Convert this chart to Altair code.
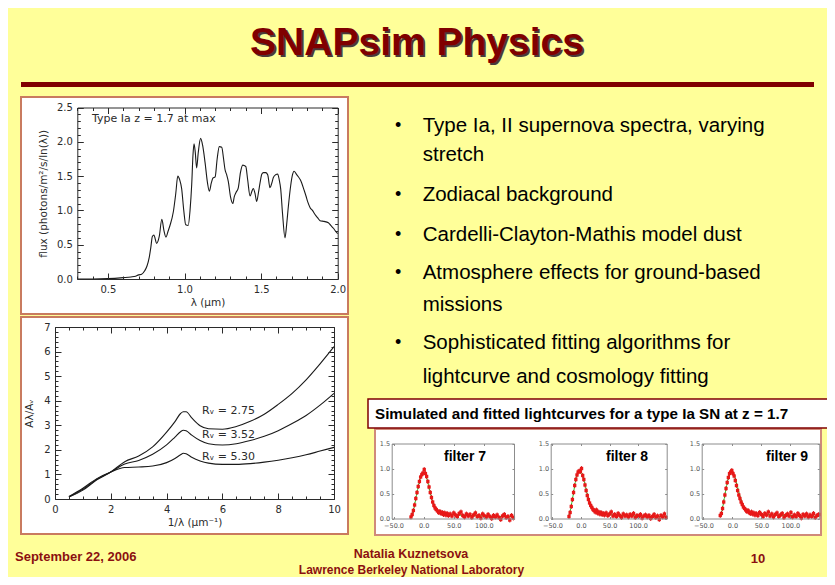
import altair as alt
import pandas as pd

# ---------------- data ----------------
TITLE = "SNAPsim Physics"
BULLETS = [
    ["Type Ia, II supernova spectra, varying", "stretch"],
    ["Zodiacal background"],
    ["Cardelli-Clayton-Mathis model dust"],
    ["Atmosphere effects for ground-based", "missions"],
    ["Sophisticated fitting algorithms for", "lightcurve and cosmology fitting"],
]
CAPTION = "Simulated and fitted lightcurves for a type Ia SN at z = 1.7"
FOOT_DATE = "September 22, 2006"
FOOT_AUTHOR = "Natalia Kuznetsova"
FOOT_LAB = "Lawrence Berkeley National Laboratory"
FOOT_PAGE = "10"

SPEC_NOTE = "Type Ia z = 1.7 at max"
SPEC_XTITLE = "λ (μm)"
SPEC_YTITLE = "flux (photons/m²/s/ln(λ))"
SPEC_XTICKS = [0.5, 1.0, 1.5, 2.0]
SPEC_YTICKS = [0.0, 0.5, 1.0, 1.5, 2.0, 2.5]
SPEC_LAMBDA = [0.30, 0.40, 0.50, 0.60, 0.65, 0.68, 0.70, 0.72, 0.74, 0.755, 0.77, 0.78, 0.79, 0.80,
               0.818, 0.835, 0.852, 0.866, 0.879, 0.893, 0.905, 0.927, 0.943, 0.956, 0.968, 0.981,
               0.995, 1.008, 1.024, 1.036, 1.047, 1.055, 1.062, 1.070, 1.079, 1.090, 1.105, 1.118,
               1.134, 1.150, 1.162, 1.175, 1.185, 1.200, 1.213, 1.227, 1.243, 1.255, 1.264, 1.275,
               1.286, 1.300, 1.315, 1.325, 1.336, 1.351, 1.365, 1.380, 1.400, 1.412, 1.428, 1.440,
               1.449, 1.460, 1.471, 1.482, 1.493, 1.505, 1.515, 1.530, 1.543, 1.558, 1.570, 1.580,
               1.595, 1.608, 1.618, 1.628, 1.640, 1.656, 1.667, 1.678, 1.693, 1.705, 1.715, 1.730,
               1.743, 1.755, 1.765, 1.780, 1.793, 1.805, 1.820, 1.835, 1.852, 1.870, 1.885, 1.910,
               1.939, 1.955, 1.972, 1.985, 2.000]
SPEC_FLUX = [0.0, 0.0, 0.005, 0.02, 0.03, 0.04, 0.06, 0.07, 0.12, 0.19, 0.32, 0.46, 0.62, 0.64,
             0.52, 0.62, 0.87, 0.70, 0.61, 0.70, 0.78, 0.98, 1.25, 1.50, 1.45, 1.32,
             1.0, 0.79, 0.78, 1.0, 1.38, 1.8, 1.97, 1.85, 1.62, 1.85, 2.05, 1.95,
             1.70, 1.40, 1.28, 1.40, 1.47, 1.49, 1.75, 1.93, 1.92, 1.75, 1.60, 1.52,
             1.42, 1.20, 1.10, 1.20, 1.26, 1.33, 1.55, 1.66, 1.64, 1.45, 1.21, 1.28,
             1.32, 1.25, 1.13, 1.25, 1.40, 1.53, 1.55, 1.55, 1.52, 1.33, 1.40, 1.48,
             1.52, 1.53, 1.45, 1.31, 0.95, 0.60, 0.80, 1.06, 1.36, 1.52, 1.57, 1.53,
             1.49, 1.45, 1.40, 1.30, 1.21, 1.12, 1.04, 1.00, 0.94, 0.89, 0.85, 0.84,
             0.82, 0.78, 0.74, 0.70, 0.66]

EXT_XTITLE = "1/λ (μm⁻¹)"
EXT_YTITLE = "Aλ/Aᵥ"
EXT_XTICKS = [0, 2, 4, 6, 8, 10]
EXT_YTICKS = [0, 1, 2, 3, 4, 5, 6, 7]
EXT_LABELS = ["Rᵥ = 2.75", "Rᵥ = 3.52", "Rᵥ = 5.30"]
EXT_X = [0.5, 1.0, 1.5, 2.0, 2.5, 3.0, 3.5, 4.0, 4.3, 4.5, 4.6, 4.7, 4.9, 5.2, 5.5, 6.0,
         6.5, 7.0, 7.5, 8.0, 8.5, 9.0, 9.5, 10.0]
EXT_275 = [0.08, 0.36, 0.78, 1.10, 1.52, 1.75, 2.12, 2.72, 3.15, 3.48, 3.55, 3.55, 3.30, 2.98,
           2.86, 2.84, 2.95, 3.16, 3.45, 3.85, 4.30, 4.85, 5.50, 6.20]
EXT_352 = [0.09, 0.40, 0.80, 1.10, 1.42, 1.57, 1.82, 2.20, 2.52, 2.74, 2.80, 2.78, 2.60, 2.38,
           2.25, 2.20, 2.25, 2.38, 2.55, 2.78, 3.07, 3.40, 3.82, 4.30]
EXT_530 = [0.10, 0.44, 0.83, 1.10, 1.28, 1.30, 1.34, 1.48, 1.65, 1.80, 1.86, 1.84, 1.70, 1.55,
           1.46, 1.41, 1.41, 1.44, 1.50, 1.58, 1.68, 1.80, 1.95, 2.10]

FILTERS = ["filter 7", "filter 8", "filter 9"]
LC_XTICKS = [-50, 0, 50, 100]
LC_YTICKS = [0.0, 0.5, 1.0, 1.5]
LC_T = [-21, -19, -17, -15, -13, -11, -9, -7, -5, -3, -1, 1, 3, 5, 7, 9, 11, 13, 15, 17, 19, 21,
        23, 25, 27, 29, 31, 33, 35, 37, 39, 41, 44, 47, 50, 53, 56, 59, 62, 65, 68, 71, 74, 77,
        80, 83, 86, 89, 92, 95, 98, 101, 104, 107, 110, 113, 116, 119, 122, 125, 128, 131, 134,
        137, 140, 143, 146, 149]
LC_F7 = [0.03, 0.08, 0.16, 0.27, 0.40, 0.52, 0.64, 0.74, 0.83, 0.88, 0.91, 0.98, 0.90, 0.84,
         0.74, 0.63, 0.52, 0.42, 0.33, 0.26, 0.21, 0.18, 0.15, 0.12, 0.14, 0.10, 0.12, 0.08,
         0.11, 0.07, 0.10, 0.06,
         0.09, 0.05, 0.11, 0.07, 0.04, 0.10, 0.13, 0.06, 0.03, 0.09, 0.05, 0.08, 0.02, 0.07,
         0.11, 0.04, 0.06, 0.01, 0.09, 0.05, 0.03, 0.08, 0.04, 0.00, 0.06, 0.03, 0.07, 0.02,
         -0.02, 0.05, 0.08, 0.02, 0.04, -0.03, 0.06, 0.01]
LC_F8 = [0.04, 0.12, 0.24, 0.38, 0.52, 0.66, 0.78, 0.87, 0.93, 0.95, 0.94, 1.00, 0.86, 0.78,
         0.67, 0.56, 0.46, 0.38, 0.31, 0.26, 0.22, 0.18, 0.16, 0.13, 0.17, 0.11, 0.13, 0.09,
         0.12, 0.08, 0.10, 0.07,
         0.11, 0.06, 0.09, 0.13, 0.05, 0.08, 0.04, 0.10, 0.06, 0.02, 0.09, 0.05, 0.07, 0.03,
         0.08, 0.05, 0.10, 0.02, 0.06, 0.04, 0.08, 0.01, 0.05, 0.07, 0.03, 0.06, 0.00, 0.04,
         0.08, 0.02, 0.05, -0.02, 0.06, 0.03, 0.09, 0.02]
LC_F9 = [0.06, 0.10, 0.20, 0.33, 0.47, 0.60, 0.72, 0.82, 0.90, 0.93, 0.96, 0.90, 0.85, 0.76,
         0.66, 0.56, 0.47, 0.40, 0.33, 0.28, 0.23, 0.20, 0.17, 0.14, 0.16, 0.12, 0.10, 0.13,
         0.09, 0.11, 0.07, 0.10,
         0.06, 0.12, 0.08, 0.04, 0.10, 0.07, 0.13, 0.05, 0.09, 0.03, 0.08, 0.11, 0.04, 0.07,
         0.10, 0.02, 0.06, 0.09, 0.05, 0.12, 0.03, 0.07, 0.04, 0.10, 0.06, 0.01, 0.08, 0.05,
         0.09, 0.03, 0.07, 0.04, 0.10, 0.02, 0.06, 0.08]
LC_ERR = 0.05
FIT_T = [-22, -18, -14, -10, -6, -3, 0, 3, 6, 10, 14, 18, 24, 30, 40, 55, 75, 100, 125, 150]
FIT_F7 = [0.0, 0.12, 0.33, 0.58, 0.80, 0.89, 0.92, 0.88, 0.77, 0.57, 0.38, 0.26, 0.17, 0.12,
          0.09, 0.07, 0.06, 0.05, 0.04, 0.035]
FIT_F8 = [0.02, 0.20, 0.45, 0.72, 0.90, 0.95, 0.93, 0.86, 0.74, 0.53, 0.36, 0.25, 0.17, 0.13,
          0.10, 0.07, 0.06, 0.05, 0.04, 0.035]
FIT_F9 = [0.03, 0.16, 0.40, 0.66, 0.86, 0.93, 0.93, 0.87, 0.77, 0.58, 0.41, 0.29, 0.19, 0.14,
          0.10, 0.08, 0.07, 0.06, 0.05, 0.04]

# ---------------- layout / style ----------------
W, H = 819, 569
PAGE = 8
BG = "#FFFF99"
MAROON = "#800000"
BOX_EDGE = "#C97B5F"
IDL_FONT = "DejaVu Sans"
IDL_INK = "#2b2b2b"
ARIAL = "'Liberation Sans', Arial, sans-serif"


def px(v):
    return v - PAGE


def lin(dom, rng):
    return alt.Scale(domain=dom, range=rng, nice=False, zero=False)


AXIS_OFF = dict(grid=False, title=None, labels=False, domain=False, ticks=False, zindex=2,
                labelFlush=False, labelOverlap=False)


def axis(**kw):
    d = dict(AXIS_OFF)
    d.update(kw)
    return alt.Axis(**d)


def minor_ticks(a, b, step, majors):
    out, v = [], a
    while v <= b + 1e-9:
        r = round(v, 4)
        if all(abs(r - m) > 1e-6 for m in majors):
            out.append(r)
        v += step
    return out


def plot_frame(df, xf, yf, xdom, ydom, left, right, bottom, top, xt, yt, xmin, ymin,
               fx, fy, labx, laby, edge, major_len, minor_len, xtitle=None, ytitle=None, ttl=None):
    x0, x1, yb, ytp = px(left), px(right), px(bottom), px(top)

    def xs():
        return lin(xdom, [x0, x1])

    def ys():
        return lin(ydom, [yb, ytp])

    def ghost(xa, ya):
        return alt.Chart(df).mark_point(opacity=0).encode(
            x=alt.X(f"{xf}:Q", scale=xs(), axis=xa),
            y=alt.Y(f"{yf}:Q", scale=ys(), axis=ya))

    tick = dict(ticks=True, tickColor=edge, tickWidth=1)
    bx = dict(orient="bottom", offset=yb - H, values=xt, format=fx, labels=True, domain=True,
              domainColor=edge, domainWidth=1, **labx)
    ly = dict(orient="left", offset=-x0, values=yt, format=fy, labels=True, domain=True,
              domainColor=edge, domainWidth=1, **laby)
    if xtitle:
        bx.update(title=xtitle, **ttl["x"])
    if ytitle:
        ly.update(title=ytitle, **ttl["y"])
    layers = [
        ghost(axis(**bx), axis(**ly)),
        ghost(axis(orient="top", offset=-yb, values=xt, tickSize=major_len, **tick),
              axis(orient="right", offset=x0 - W, values=yt, tickSize=major_len, **tick)),
        ghost(axis(orient="bottom", offset=ytp - H, values=xt, tickSize=major_len, domain=True,
                   domainColor=edge, domainWidth=1, **tick),
              axis(orient="left", offset=-x1, values=yt, tickSize=major_len, domain=True,
                   domainColor=edge, domainWidth=1, **tick)),
    ]
    if xmin:
        layers += [
            ghost(axis(orient="top", offset=-yb, values=xmin, tickSize=minor_len, **tick),
                  axis(orient="right", offset=x0 - W, values=ymin, tickSize=minor_len, **tick)),
            ghost(axis(orient="bottom", offset=ytp - H, values=xmin, tickSize=minor_len, **tick),
                  axis(orient="left", offset=-x1, values=ymin, tickSize=minor_len, **tick)),
        ]
    return layers, xs, ys


def text(t, x, y, size, color="#000000", font=ARIAL, weight="normal", align="left",
         baseline="middle", angle=0):
    return alt.Chart(pd.DataFrame({"t": [t]})).mark_text(
        fontSize=size, color=color, font=font, fontWeight=weight, align=align,
        baseline=baseline, angle=angle).encode(
        text="t:N", x=alt.value(px(x)), y=alt.value(px(y)))


def box(x0, y0, x1, y1, fill, stroke, sw):
    return alt.Chart(pd.DataFrame({"k": [0]})).mark_rect(
        fill=fill, stroke=stroke, strokeWidth=sw).encode(
        x=alt.value(px(x0)), x2=alt.value(px(x1)), y=alt.value(px(y0)), y2=alt.value(px(y1)))


layers = []

# ---- slide decorations ----
layers.append(box(21, 82, 814, 87, MAROON, MAROON, 0))
layers.append(box(21, 97, 348, 314, "#FFFFFF", BOX_EDGE, 2))
layers.append(box(21, 317, 348, 534, "#FFFFFF", BOX_EDGE, 2))
layers.append(box(375, 429, 821, 535, "#FFFFFF", "#D08A7A", 2))
layers.append(box(368, 399, 829, 428, "#FFFFFF", MAROON, 1.5))

# ---- spectrum panel ----
IDL_LAB = dict(labelFont=IDL_FONT, labelFontSize=10, labelColor=IDL_INK, labelPadding=5)
IDL_TTL = {"x": dict(titleFont=IDL_FONT, titleFontSize=10.5, titleFontWeight="normal",
                     titleColor=IDL_INK, titlePadding=3),
           "y": dict(titleFont=IDL_FONT, titleFontSize=10.5, titleFontWeight="normal",
                     titleColor=IDL_INK, titlePadding=8)}

spec_df = pd.DataFrame({"lam": SPEC_LAMBDA, "flux": SPEC_FLUX})
fl, xs, ys = plot_frame(spec_df, "lam", "flux", [0.3, 2.0], [0.0, 2.5], 77.3, 337.7, 279, 107.5,
                        SPEC_XTICKS, SPEC_YTICKS,
                        minor_ticks(0.3, 2.0, 0.1, SPEC_XTICKS),
                        minor_ticks(0.0, 2.5, 0.1, SPEC_YTICKS),
                        ".1f", ".1f", IDL_LAB, IDL_LAB, IDL_INK, 6, 3,
                        SPEC_XTITLE, SPEC_YTITLE, IDL_TTL)
layers += fl
layers.append(alt.Chart(spec_df).mark_line(color="#1a1a1a", strokeWidth=1.1,
                                           interpolate="monotone").encode(
    x=alt.X("lam:Q", scale=xs(), axis=None), y=alt.Y("flux:Q", scale=ys(), axis=None)))
layers.append(text(SPEC_NOTE, 92, 119, 11, IDL_INK, IDL_FONT))

# ---- extinction panel ----
ext_rows = []
for name, vals in zip(EXT_LABELS, [EXT_275, EXT_352, EXT_530]):
    for xv, yv in zip(EXT_X, vals):
        ext_rows.append({"inv": xv, "a": yv, "rv": name})
ext_df = pd.DataFrame(ext_rows)
IDL_TTL2 = {"x": dict(IDL_TTL["x"], titlePadding=3), "y": dict(IDL_TTL["y"], titlePadding=9)}
fl, xs, ys = plot_frame(ext_df, "inv", "a", [0, 10], [0, 7], 55, 334, 499, 327,
                        EXT_XTICKS, EXT_YTICKS,
                        minor_ticks(0, 10, 0.5, EXT_XTICKS),
                        minor_ticks(0, 7, 0.2, EXT_YTICKS),
                        "d", "d", IDL_LAB, IDL_LAB, IDL_INK, 6, 3,
                        EXT_XTITLE, EXT_YTITLE, IDL_TTL2)
layers += fl
layers.append(alt.Chart(ext_df).mark_line(color="#1a1a1a", strokeWidth=1.1,
                                          interpolate="monotone").encode(
    x=alt.X("inv:Q", scale=xs(), axis=None), y=alt.Y("a:Q", scale=ys(), axis=None),
    detail="rv:N"))
for lbl, yy in zip(EXT_LABELS, [411, 435, 457]):
    layers.append(text(lbl, 202, yy, 11, IDL_INK, IDL_FONT))

# ---- lightcurve panels ----
LC_LABX = dict(labelFont=IDL_FONT, labelFontSize=6.5, labelColor="#555555", labelPadding=4)
LC_LABY = dict(labelFont=IDL_FONT, labelFontSize=6.5, labelColor="#555555", labelPadding=2)
LC_BOXES = [(391.7, 514.0), (550.7, 666.7), (701.7, 819.3)]
LC_LABEL_X = [444, 606, 766]
for (lft, rgt), fl_name, fx_lab, flux, fit in zip(LC_BOXES, FILTERS, LC_LABEL_X,
                                                   [LC_F7, LC_F8, LC_F9],
                                                   [FIT_F7, FIT_F8, FIT_F9]):
    lc_df = pd.DataFrame({"t": LC_T, "f": flux})
    fit_df = pd.DataFrame({"t": FIT_T, "f": fit})
    fl, xs, ys = plot_frame(lc_df, "t", "f", [-53, 150], [0.0, 1.5], lft, rgt, 518.5, 443.5,
                            LC_XTICKS, LC_YTICKS, None, None, ".1f", ".1f", LC_LABX, LC_LABY,
                            "#8c8c8c", 2, 1)
    layers += fl
    layers.append(alt.Chart(fit_df).mark_line(color="#22CC22", strokeWidth=1,
                                              interpolate="monotone").encode(
        x=alt.X("t:Q", scale=xs(), axis=None), y=alt.Y("f:Q", scale=ys(), axis=None)))
    layers.append(alt.Chart(lc_df).transform_calculate(
        lo=f"datum.f - {LC_ERR}", hi=f"datum.f + {LC_ERR}").mark_rule(
        color="#CC1111", strokeWidth=0.9).encode(
        x=alt.X("t:Q", scale=xs(), axis=None), y=alt.Y("lo:Q", scale=ys(), axis=None),
        y2="hi:Q"))
    layers.append(alt.Chart(lc_df).mark_point(shape="square", filled=True, size=11,
                                              color="#E81818", opacity=1).encode(
        x=alt.X("t:Q", scale=xs(), axis=None), y=alt.Y("f:Q", scale=ys(), axis=None)))
    layers.append(text(fl_name, fx_lab, 457, 14, "#000000", ARIAL, "bold"))

# ---- title, bullets, caption, footer ----
layers.append(text(TITLE, 418.8, 56.8, 39, "#4a3a3a", ARIAL, "bold", "center", "alphabetic"))
layers.append(text(TITLE, 417, 55, 39, MAROON, ARIAL, "bold", "center", "alphabetic"))

BULLET_Y = [[126, 155], [195], [235], [273, 305], [343, 377]]
for lines, ys_ in zip(BULLETS, BULLET_Y):
    layers.append(text("•", 395, ys_[0], 18, "#000000", ARIAL))
    for ln, yy in zip(lines, ys_):
        layers.append(text(ln, 422.7, yy, 20.5, "#000000", ARIAL))

layers.append(text(CAPTION, 375, 414, 15.2, "#000000", ARIAL, "bold"))

FOOT_RED = "#8B1010"
layers.append(text(FOOT_DATE, 15, 557, 13, FOOT_RED, ARIAL, "bold"))
layers.append(text(FOOT_AUTHOR, 411, 553.5, 12.5, FOOT_RED, ARIAL, "bold", "center"))
layers.append(text(FOOT_LAB, 411.5, 569.5, 12, FOOT_RED, ARIAL, "bold", "center"))
layers.append(text(FOOT_PAGE, 758, 559, 13, FOOT_RED, ARIAL, "bold", "center"))

chart = alt.layer(*layers).resolve_scale(x="independent", y="independent").properties(
    width=W, height=H, padding=0, background=BG,
    autosize=alt.AutoSizeParams(type="none")
).configure_view(strokeWidth=0)

chart.save("out.html", embed_options={"renderer": "svg", "actions": False})
